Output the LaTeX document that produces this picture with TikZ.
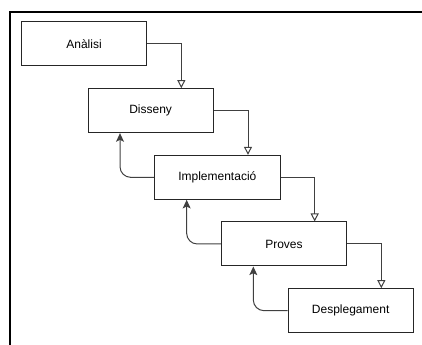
\documentclass[tikz,border=0pt]{standalone}
\usepackage{fontspec}
\setmainfont{Liberation Sans}
\usepackage{tikz}
\usetikzlibrary{arrows,arrows.meta,calc}

\begin{document}
\begin{tikzpicture}[x=0.75pt,y=-0.75pt]
\tikzstyle{phase}=[rectangle, draw=black!85, line width=0.75pt, node distance = 50pt, minimum width = 94pt, minimum height = 33pt, font=\fontsize{9pt}{11pt}\selectfont]
\tikzstyle{fwd}=[-{Triangle[open,length=6pt,width=6pt]}, line width=0.75pt, draw=black!75]
\tikzstyle{back}=[-{Stealth[length=6.5pt,width=6pt,inset=1.5pt]}, line width=0.75pt, draw=black!75, rounded corners=8pt]
\tikzstyle{frame}=[line width=1.5pt, black]

  \useasboundingbox (0,0) rectangle (422,345);
  \coordinate (frametop) at (422,12);
  \coordinate (framecorner) at (10,12);
  \coordinate (framebottom) at (10,345);
  \draw[frame] (frametop) -- (framecorner) -- (framebottom);

  \node[phase] (analisi)      at (84,44)                            {Anàlisi};
  \node[phase] (disseny)      [below of =analisi, xshift=50pt]      {Disseny};
  \node[phase] (implementacio)[below of =disseny, xshift=50pt]      {Implementació};
  \node[phase] (proves)       [below of =implementacio, xshift=50pt]{Proves};
  \node[phase] (desplegament) [below of =proves, xshift=50pt]       {Desplegament};

  % cap avall
  \draw[fwd] (analisi.east)       -| ([xshift=23pt]disseny.north);
  \draw[fwd] (disseny.east)       -| ([xshift=23pt]implementacio.north);
  \draw[fwd] (implementacio.east) -| ([xshift=23pt]proves.north);
  \draw[fwd] (proves.east)        -| ([xshift=23pt]desplegament.north);

  % retorn
  \draw[back] (implementacio.west) -| ([xshift=-23pt]disseny.south);
  \draw[back] (proves.west)        -| ([xshift=-23pt]implementacio.south);
  \draw[back] (desplegament.west)  -| ([xshift=-23pt]proves.south);

\end{tikzpicture}
\end{document}
